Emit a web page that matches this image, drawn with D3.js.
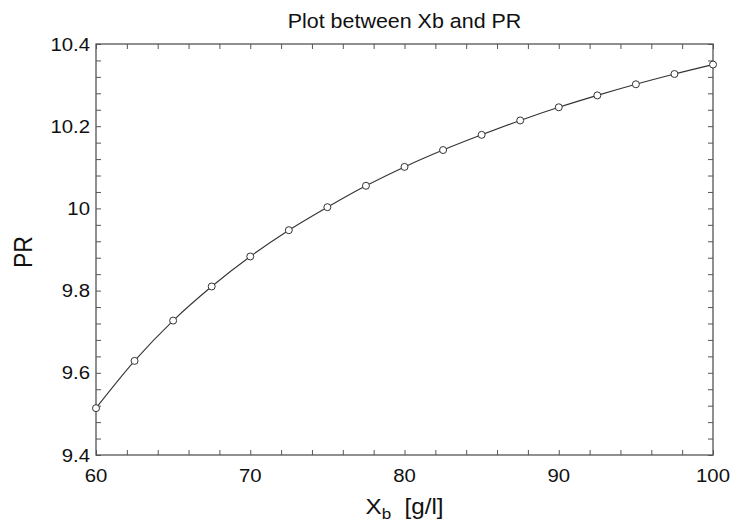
<!DOCTYPE html>
<html>
<head>
<meta charset="utf-8">
<script src="https://cdn.jsdelivr.net/npm/d3@7/dist/d3.min.js"></script>
<style>
  html, body { margin: 0; padding: 0; background: #fff; }
  svg { display: block; }
  text { font-family: "Liberation Sans", Arial, sans-serif; fill: #111; }
</style>
</head>
<body>
<svg id="chart" width="730" height="521"></svg>
<script>
const xValues = [60, 62.5, 65, 67.5, 70, 72.5, 75, 77.5, 80, 82.5, 85, 87.5, 90, 92.5, 95, 97.5, 100];
const prValues = [9.514, 9.629, 9.727, 9.810, 9.883, 9.947, 10.003, 10.055, 10.101, 10.142, 10.179, 10.214, 10.246, 10.275, 10.302, 10.327, 10.350];
const xTickLabels = [60, 70, 80, 90, 100];
const yTickLabels = [9.4, 9.6, 9.8, 10, 10.2, 10.4];
const titleText = "Plot between Xb and PR";
const yLabelText = "PR";

const svg = d3.select("#chart");
const L = 96, R = 713, T = 44, B = 455;
const sx = 1.1; // horizontal text stretch seen in reference

const x = d3.scaleLinear().domain([60, 100]).range([L, R]);
const y = d3.scaleLinear().domain([9.4, 10.4]).range([B, T]);

const axisColor = "#555";
const tickLen = 5;

function stretchedText(g, tx, ty, str, size, anchor) {
  return g.append("text")
    .attr("transform", `translate(${tx},${ty}) scale(${sx},1)`)
    .attr("text-anchor", anchor)
    .style("font-size", size + "px")
    .text(str);
}

// inward ticks on all sides, via d3 axes
const xMinor = d3.range(60, 100.001, 2);
const yMinor = d3.range(0, 26).map(i => +(9.4 + i * 0.04).toFixed(2));

const axB = d3.axisTop(x).tickValues(xMinor).tickSize(tickLen).tickFormat("");
const axT = d3.axisBottom(x).tickValues(xMinor).tickSize(tickLen).tickFormat("");
const axL = d3.axisRight(y).tickValues(yMinor).tickSize(tickLen).tickFormat("");
const axR = d3.axisLeft(y).tickValues(yMinor).tickSize(tickLen).tickFormat("");

function styleAxis(g) {
  g.select(".domain").remove();
  g.selectAll(".tick line").attr("stroke", axisColor).attr("stroke-width", 1);
}
svg.append("g").attr("transform", `translate(0,${B})`).call(axB).call(styleAxis);
svg.append("g").attr("transform", `translate(0,${T})`).call(axT).call(styleAxis);
svg.append("g").attr("transform", `translate(${L},0)`).call(axL).call(styleAxis);
svg.append("g").attr("transform", `translate(${R},0)`).call(axR).call(styleAxis);

// frame
svg.append("rect")
  .attr("x", L).attr("y", T).attr("width", R - L).attr("height", B - T)
  .attr("fill", "none").attr("stroke", axisColor).attr("stroke-width", 1.3);

// tick labels
const labels = svg.append("g");
xTickLabels.forEach(v => stretchedText(labels, x(v), 482, String(v), 18.5, "middle"));
yTickLabels.forEach(v => stretchedText(labels, 90, y(v) + 6.5, String(v), 18.5, "end"));

// line
const line = d3.line().x((d, i) => x(xValues[i])).y(d => y(d)).curve(d3.curveMonotoneX);
svg.append("path")
  .datum(prValues)
  .attr("d", line)
  .attr("fill", "none")
  .attr("stroke", "#333")
  .attr("stroke-width", 1.1);

// markers
svg.append("g").selectAll("circle")
  .data(prValues)
  .join("circle")
  .attr("cx", (d, i) => x(xValues[i]))
  .attr("cy", d => y(d))
  .attr("r", 3.5)
  .attr("fill", "#fff")
  .attr("stroke", "#333")
  .attr("stroke-width", 1);

// title
stretchedText(svg, (L + R) / 2, 28, titleText, 19.5, "middle");

// y label
svg.append("text")
  .attr("transform", `translate(32,252) rotate(-90) scale(1,${sx})`)
  .attr("text-anchor", "middle")
  .style("font-size", "23px")
  .text(yLabelText);

// x label with subscript
const xl = svg.append("text")
  .attr("transform", `translate(${(L + R) / 2},514) scale(${sx},1)`)
  .attr("text-anchor", "middle")
  .style("font-size", "22px");
xl.append("tspan").text("X");
xl.append("tspan").attr("dy", 5).style("font-size", "15.5px").text("b");
xl.append("tspan").attr("dy", -5).attr("xml:space", "preserve").text("\u00a0\u00a0[g/l]");
</script>
</body>
</html>
